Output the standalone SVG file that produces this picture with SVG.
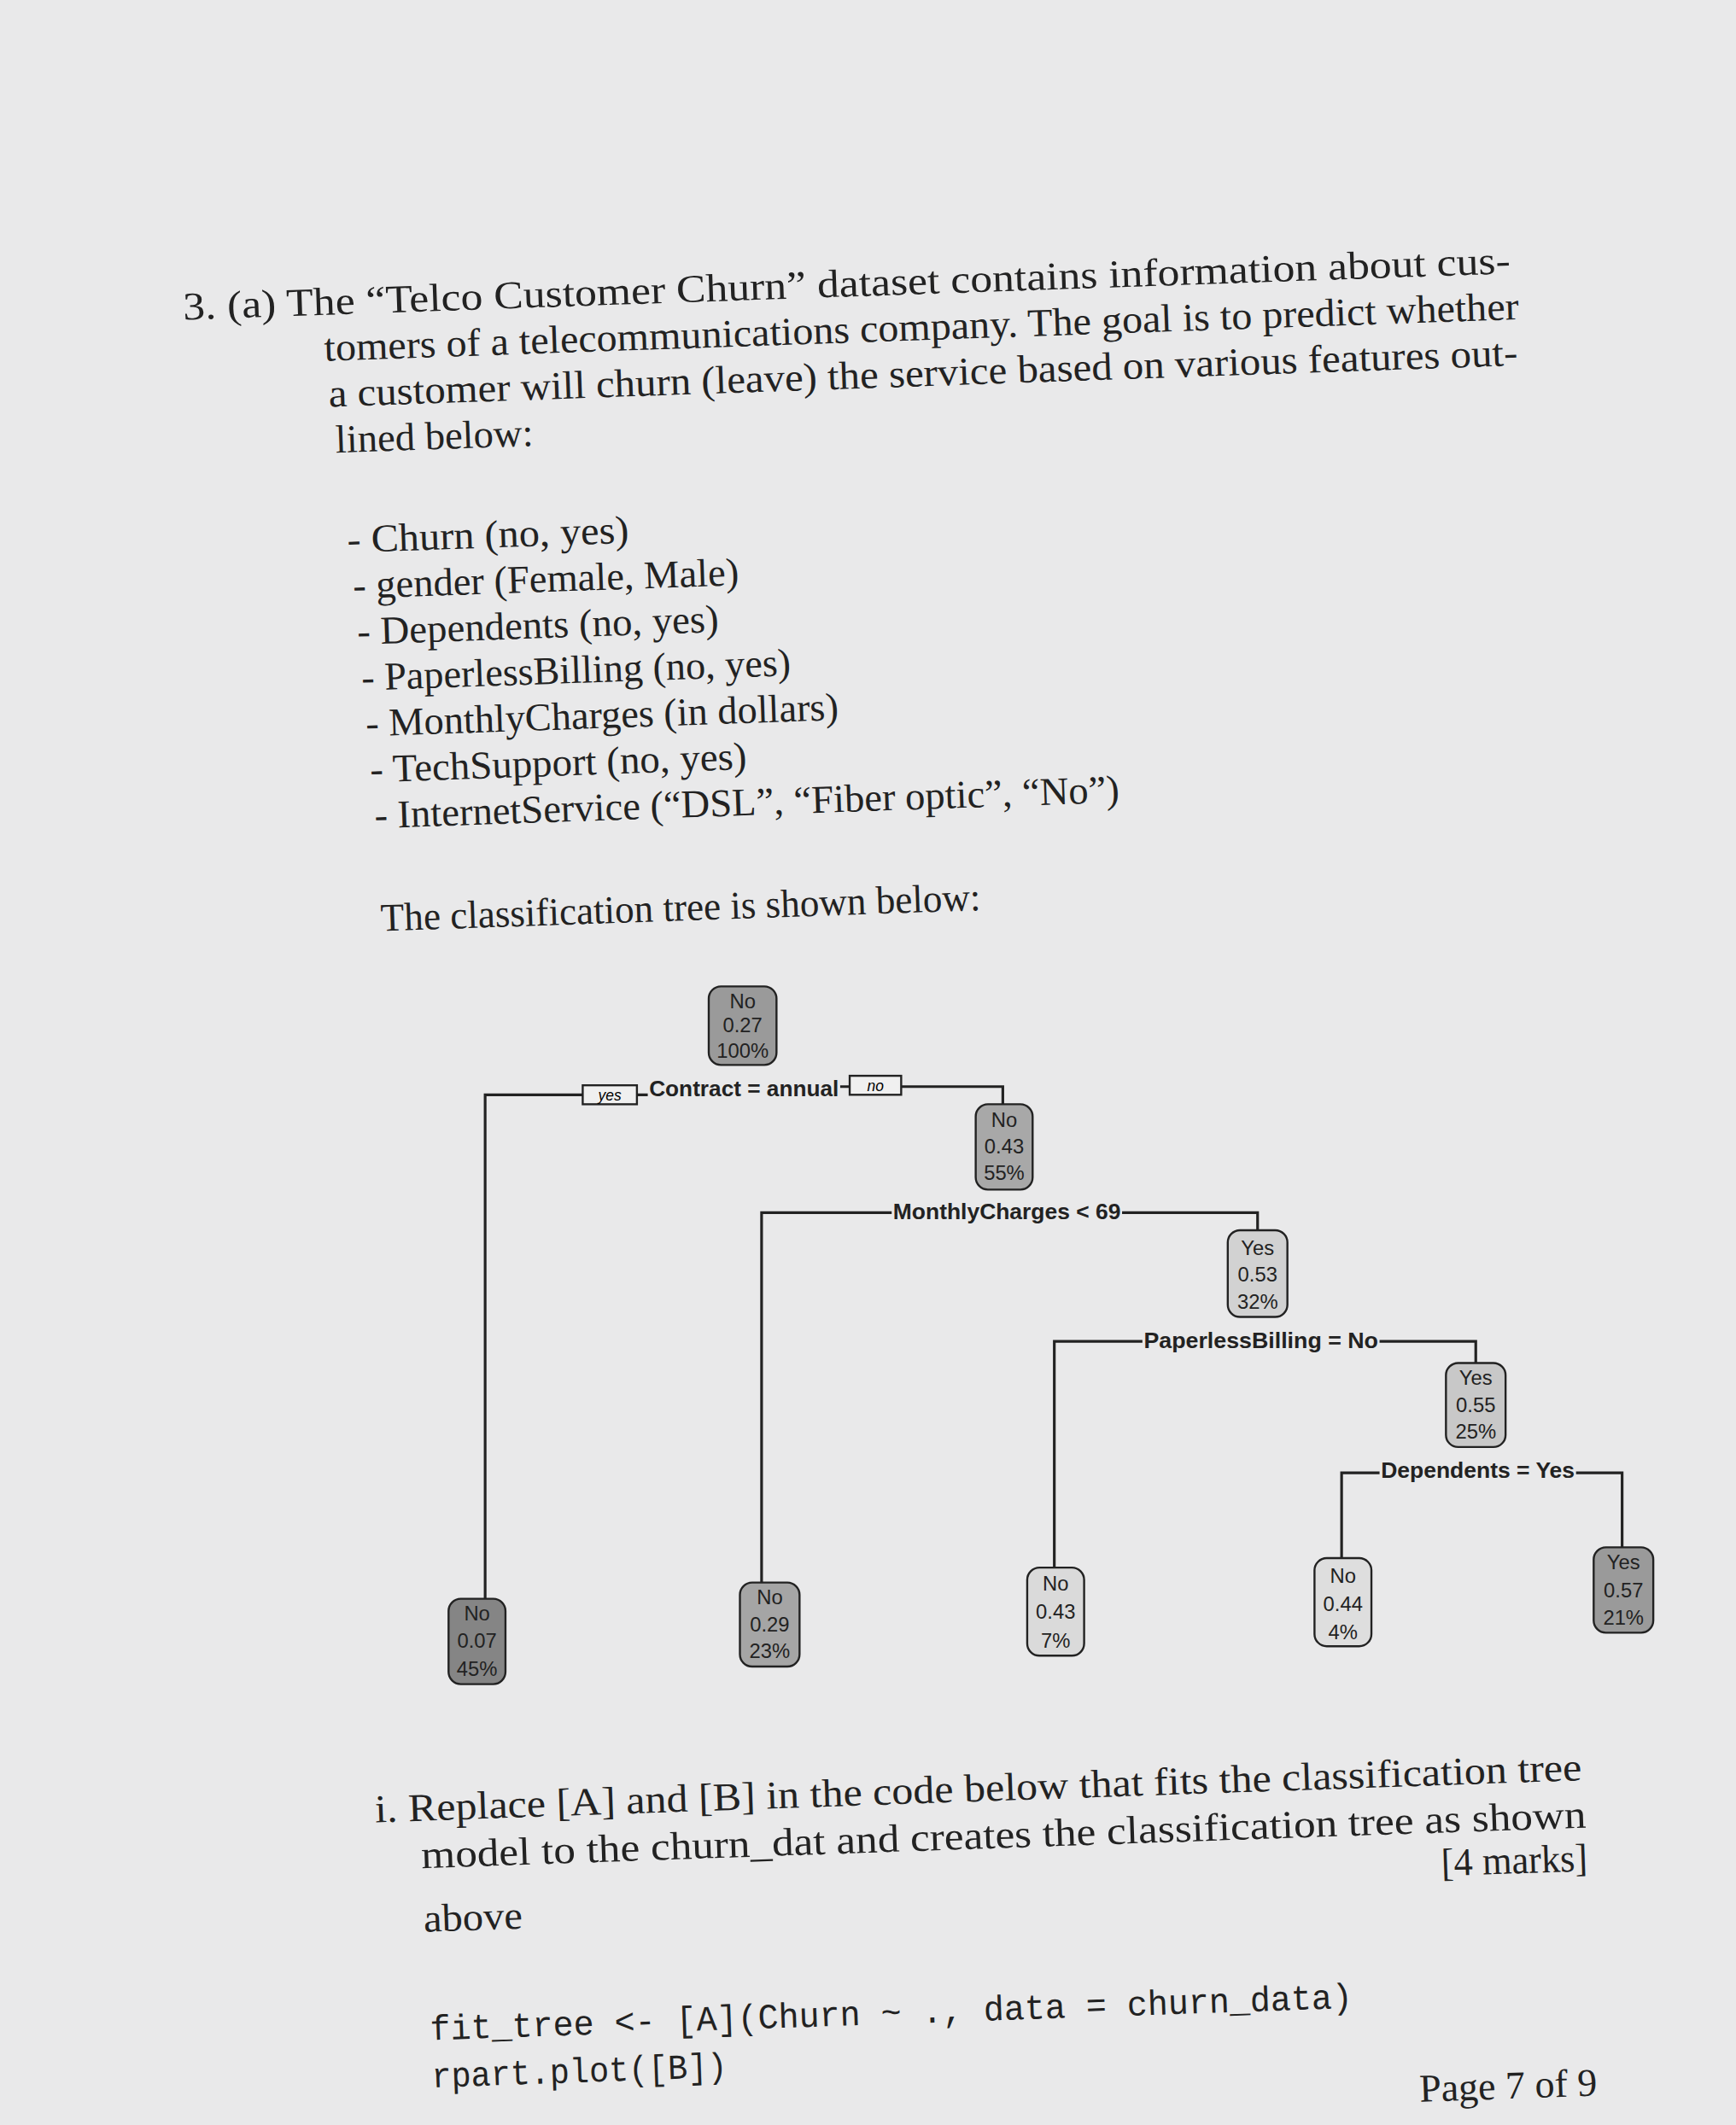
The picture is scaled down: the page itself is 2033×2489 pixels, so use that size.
<svg xmlns="http://www.w3.org/2000/svg" width="2033" height="2489" viewBox="0 0 2033 2489">
<style>
.t{font-family:"Liberation Serif",serif;font-size:29px;fill:#222}
.m{font-family:"Liberation Mono",monospace;font-size:26px;fill:#222}
.n{font-family:"Liberation Sans",sans-serif;font-size:15px;fill:#222;text-anchor:middle}
.s{font-family:"Liberation Sans",sans-serif;font-size:16px;font-weight:bold;fill:#222}
.e{stroke:#222;stroke-width:2;fill:none}
.b{stroke:#222;stroke-width:1.5}
</style>
<rect width="2033" height="2489" fill="#e9e9ea"/>
<g transform="scale(1.587)">
<g transform="rotate(-2 135 225)">
<text class="t" x="135" y="236" textLength="980" lengthAdjust="spacingAndGlyphs">3.  (a) The “Telco Customer Churn” dataset contains information about cus-</text>
<text class="t" x="238" y="270" textLength="882" lengthAdjust="spacingAndGlyphs">tomers of a telecommunications company. The goal is to predict whether</text>
<text class="t" x="240" y="304" textLength="878" lengthAdjust="spacingAndGlyphs">a customer will churn (leave) the service based on various features out-</text>
<text class="t" x="244" y="338" textLength="146" lengthAdjust="spacingAndGlyphs">lined below:</text>
<text class="t" x="250" y="412" textLength="208" lengthAdjust="spacingAndGlyphs">- Churn (no, yes)</text>
<text class="t" x="253" y="446" textLength="285" lengthAdjust="spacingAndGlyphs">- gender (Female, Male)</text>
<text class="t" x="255" y="480" textLength="267" lengthAdjust="spacingAndGlyphs">- Dependents (no, yes)</text>
<text class="t" x="257" y="514" textLength="317" lengthAdjust="spacingAndGlyphs">- PaperlessBilling (no, yes)</text>
<text class="t" x="259" y="548" textLength="349" lengthAdjust="spacingAndGlyphs">- MonthlyCharges (in dollars)</text>
<text class="t" x="261" y="582" textLength="278" lengthAdjust="spacingAndGlyphs">- TechSupport (no, yes)</text>
<text class="t" x="263" y="616" textLength="550" lengthAdjust="spacingAndGlyphs">- InternetService (“DSL”, “Fiber optic”, “No”)</text>
<text class="t" x="265" y="692" textLength="443" lengthAdjust="spacingAndGlyphs">The classification tree is shown below:</text>
</g>
<g id="edges">
<path class="e" d="M470 808H478M620 802H627M665 802H740V815M430 808H358V1180"/>
<path class="e" d="M658 895H562V1168M828 895H928V908"/>
<path class="e" d="M843 990H778V1157M1018 990H1089V1006"/>
<path class="e" d="M1018 1087H990V1150M1163 1087H1197V1142"/>
</g>
<g id="root"><rect class="b" x="523" y="728" width="50" height="58" rx="9" fill="#9a9a9a"/><text class="n" x="548" y="744">No</text><text class="n" x="548" y="762">0.27</text><text class="n" x="548" y="781">100%</text></g>
<g id="split1"><rect class="b" x="430" y="801" width="40" height="14" fill="#f0f0f0"/><text x="450" y="812" font-family="Liberation Sans,sans-serif" font-size="11" font-style="italic" text-anchor="middle">yes</text><text class="s" x="479" y="809" textLength="140" lengthAdjust="spacingAndGlyphs">Contract = annual</text><rect class="b" x="627" y="794" width="38" height="14" fill="#f0f0f0"/><text x="646" y="805" font-family="Liberation Sans,sans-serif" font-size="11" font-style="italic" text-anchor="middle">no</text></g>
<g id="n2"><rect class="b" x="720" y="815" width="42" height="63" rx="9" fill="#a8a8a8"/><text class="n" x="741" y="832">No</text><text class="n" x="741" y="851">0.43</text><text class="n" x="741" y="871">55%</text></g>
<g id="split2"><text class="s" x="659" y="900" textLength="168" lengthAdjust="spacingAndGlyphs">MonthlyCharges &lt; 69</text></g>
<g id="n3"><rect class="b" x="906" y="908" width="44" height="64" rx="9" fill="#d2d2d2"/><text class="n" x="928" y="926">Yes</text><text class="n" x="928" y="946">0.53</text><text class="n" x="928" y="966">32%</text></g>
<g id="split3"><text class="s" x="844" y="995" textLength="173" lengthAdjust="spacingAndGlyphs">PaperlessBilling = No</text></g>
<g id="n4"><rect class="b" x="1067" y="1006" width="44" height="62" rx="9" fill="#c8c8c8"/><text class="n" x="1089" y="1022">Yes</text><text class="n" x="1089" y="1042">0.55</text><text class="n" x="1089" y="1062">25%</text></g>
<g id="split4"><text class="s" x="1019" y="1091" textLength="143" lengthAdjust="spacingAndGlyphs">Dependents = Yes</text></g>
<g id="l1"><rect class="b" x="331" y="1180" width="42" height="63" rx="9" fill="#858585"/><text class="n" x="352" y="1196">No</text><text class="n" x="352" y="1216">0.07</text><text class="n" x="352" y="1237">45%</text></g>
<g id="l2"><rect class="b" x="546" y="1168" width="44" height="62" rx="9" fill="#a5a5a5"/><text class="n" x="568" y="1184">No</text><text class="n" x="568" y="1204">0.29</text><text class="n" x="568" y="1224">23%</text></g>
<g id="l3"><rect class="b" x="758" y="1157" width="42" height="65" rx="9" fill="#dadada"/><text class="n" x="779" y="1174">No</text><text class="n" x="779" y="1195">0.43</text><text class="n" x="779" y="1216">7%</text></g>
<g id="l4"><rect class="b" x="970" y="1150" width="42" height="65" rx="9" fill="#dedede"/><text class="n" x="991" y="1168">No</text><text class="n" x="991" y="1189">0.44</text><text class="n" x="991" y="1210">4%</text></g>
<g id="l5"><rect class="b" x="1176" y="1142" width="44" height="63" rx="9" fill="#9a9a9a"/><text class="n" x="1198" y="1158">Yes</text><text class="n" x="1198" y="1179">0.57</text><text class="n" x="1198" y="1199">21%</text></g>
<g transform="rotate(-2 277 1345)">
<text class="t" x="277" y="1345" textLength="891" lengthAdjust="spacingAndGlyphs">i. Replace [A] and [B] in the code below that fits the classification tree</text>
<text class="t" x="310" y="1380" textLength="860" lengthAdjust="spacingAndGlyphs">model to the churn_dat and creates the classification tree as shown</text>
<text class="t" x="1062" y="1412" textLength="108" lengthAdjust="spacingAndGlyphs">[4 marks]</text>
<text class="t" x="310" y="1427" textLength="73" lengthAdjust="spacingAndGlyphs">above</text>
<text class="m" x="312" y="1507" textLength="681" lengthAdjust="spacingAndGlyphs">fit_tree &lt;- [A](Churn ~ ., data = churn_data)</text>
<text class="m" x="312" y="1542" textLength="218" lengthAdjust="spacingAndGlyphs">rpart.plot([B])</text>
<text class="t" x="1040" y="1578" font-size="24">Page 7 of 9</text>
</g>
</g>
</svg>
